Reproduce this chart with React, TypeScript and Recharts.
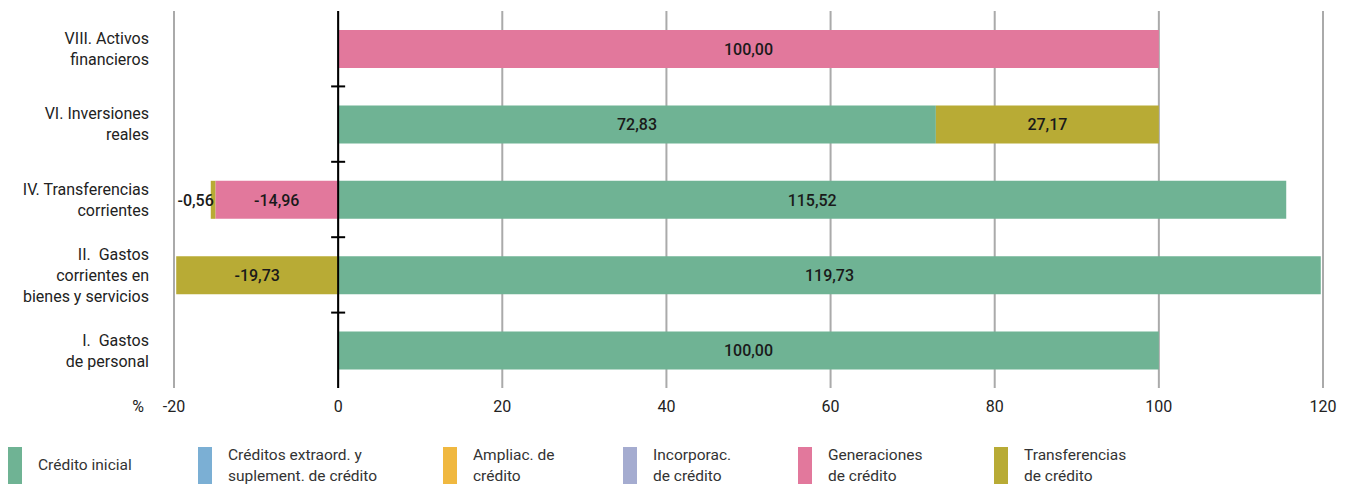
import { BarChart, Bar, XAxis, YAxis, CartesianGrid, ReferenceLine, LabelList } from 'recharts';

const FONT = 'Roboto, "Noto Sans", sans-serif';

// category labels, top to bottom, one entry per printed line
const categories = [
  ['VIII. Activos', 'financieros'],
  ['VI. Inversiones', 'reales'],
  ['IV. Transferencias', 'corrientes'],
  ['II.  Gastos', 'corrientes en', 'bienes y servicios'],
  ['I.  Gastos', 'de personal'],
];

const creditoInicial = [0, 72.83, 115.52, 119.73, 100];
const creditosExtraord = [0, 0, 0, 0, 0];
const ampliaciones = [0, 0, 0, 0, 0];
const incorporaciones = [0, 0, 0, 0, 0];
const generaciones = [100, 0, -14.96, 0, 0];
const transferencias = [0, 27.17, -0.56, -19.73, 0];

const xTicks = [-20, 0, 20, 40, 60, 80, 100, 120];

const series = [
  { key: 'inicial', label: ['Crédito inicial'], color: '#6fb394', values: creditoInicial },
  { key: 'extraord', label: ['Créditos extraord. y', 'suplement. de crédito'], color: '#7bafd4', values: creditosExtraord },
  { key: 'ampliac', label: ['Ampliac. de', 'crédito'], color: '#f0b840', values: ampliaciones },
  { key: 'incorp', label: ['Incorporac.', 'de crédito'], color: '#a5acd0', values: incorporaciones },
  { key: 'generac', label: ['Generaciones', 'de crédito'], color: '#e2789c', values: generaciones },
  { key: 'transf', label: ['Transferencias', 'de crédito'], color: '#b8ab35', values: transferencias },
];

const data = categories.map((lines, i) => {
  const row: any = { name: lines.join(' ') };
  series.forEach((s) => (row[s.key] = s.values[i]));
  return row;
});

const legendWidths = [190, 245, 180, 175, 196, 200];

function fmt(v: number) {
  return v.toFixed(2).replace('.', ',');
}

function BarValue(props: any) {
  const { x, y, width, height, value } = props;
  if (!value) return null;
  const left = Math.min(x, x + width);
  const w = Math.abs(width);
  const small = w < 40;
  return (
    <text
      x={small ? left + 3 : left + w / 2}
      y={y + height / 2}
      dy="0.36em"
      textAnchor={small ? 'end' : 'middle'}
      fontFamily={FONT}
      fontSize={16}
      fontWeight={500}
      fill="#1a1a1a"
    >
      {fmt(value)}
    </text>
  );
}

function CategoryTick(props: any) {
  const { x, y, index } = props;
  const lines = categories[index] || [];
  const start = y - ((lines.length - 1) * 21) / 2;
  return (
    <text x={x} y={start} textAnchor="end" fontFamily={FONT} fontSize={16} fill="#222">
      {lines.map((l, i) => (
        <tspan key={i} x={x} y={start + i * 21} dy="0.36em" style={{ whiteSpace: 'pre' }}>
          {l}
        </tspan>
      ))}
    </text>
  );
}

function ValueTick(props: any) {
  const { x, y, payload, index } = props;
  return (
    <g>
      {index === 0 && (
        <text x={x - 36} y={y} dy="0.36em" textAnchor="middle" fontFamily={FONT} fontSize={16} fill="#222">
          %
        </text>
      )}
      <text x={x} y={y} dy="0.36em" textAnchor="middle" fontFamily={FONT} fontSize={16} fill="#222">
        {payload.value}
      </text>
    </g>
  );
}

function ZeroLine(props: any) {
  const { x1, y1, y2 } = props;
  const top = Math.min(y1, y2);
  const bottom = Math.max(y1, y2);
  const n = categories.length;
  const marks = [];
  for (let k = 1; k < n; k++) {
    const yy = top + ((bottom - top) * k) / n;
    marks.push(<line key={k} x1={x1 - 7} x2={x1 + 7} y1={yy} y2={yy} stroke="#000" strokeWidth={2} />);
  }
  return (
    <g>
      <line x1={x1} x2={x1} y1={top} y2={bottom} stroke="#000" strokeWidth={2} />
      {marks}
    </g>
  );
}

export default function App() {
  return (
    <div style={{ width: 1338, fontFamily: FONT }}>
      <BarChart
        width={1338}
        height={420}
        data={data}
        layout="vertical"
        stackOffset="sign"
        margin={{ top: 3, right: 23, bottom: 0, left: 0 }}
        barSize={38}
      >
        <CartesianGrid horizontal={false} stroke="#aaaaaa" strokeWidth={2} />
        <XAxis
          type="number"
          domain={[-20, 120]}
          ticks={xTicks}
          axisLine={false}
          tickLine={false}
          height={40}
          tick={<ValueTick />}
          tickMargin={12}
          interval={0}
        />
        <YAxis
          type="category"
          dataKey="name"
          width={166}
          axisLine={false}
          tickLine={false}
          tickMargin={19}
          tick={<CategoryTick />}
          interval={0}
        />
        {series.map((s) => (
          <Bar key={s.key} dataKey={s.key} stackId="a" fill={s.color} isAnimationActive={false}>
            <LabelList dataKey={s.key} content={<BarValue />} />
          </Bar>
        ))}
        <ReferenceLine x={0} shape={<ZeroLine />} />
      </BarChart>
      <div style={{ display: 'flex', marginTop: 19, height: 37 }}>
        {series.map((s, i) => (
          <div key={s.key} style={{ display: 'flex', alignItems: 'center', width: legendWidths[i] }}>
            <div style={{ width: 14, height: 37, background: s.color, flexShrink: 0 }} />
            <div style={{ marginLeft: 16, fontSize: 15.5, lineHeight: '21px', color: '#333' }}>
              {s.label.map((l, j) => (
                <div key={j}>{l}</div>
              ))}
            </div>
          </div>
        ))}
      </div>
    </div>
  );
}
